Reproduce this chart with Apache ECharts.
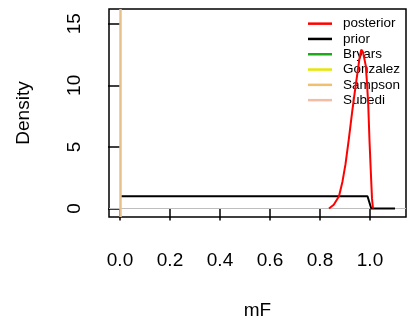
<!DOCTYPE html>
<html>
<head>
<meta charset="utf-8">
<script src="https://cdn.jsdelivr.net/npm/echarts@6/dist/echarts.min.js"></script>
<style>
  html, body { margin: 0; padding: 0; background: #fff; }
  #chart { width: 413px; height: 325px; }
</style>
</head>
<body>
<div id="chart"></div>
<script>
// x / y ticks
const xTicks = [0, 0.2, 0.4, 0.6, 0.8, 1.0]
const yTicks = [0, 5, 10, 15]

// posterior density
const postX = [0.836, 0.855, 0.876, 0.89, 0.902, 0.915, 0.929, 0.94, 0.949, 0.958, 0.965, 0.972, 0.983, 0.988, 0.993, 0.998, 1.003, 1.008, 1.012]
const postY = [0, 0.3, 1.0, 2.2, 3.6, 5.6, 7.9, 9.6, 10.9, 12.2, 12.9, 12.7, 11.6, 10.2, 8.4, 5.5, 3.1, 0.8, 0]

// prior
const priorX = [0, 0.99, 1.005, 1.1]
const priorY = [1, 1, 0, 0]

// studies in the legend
const studyNames = ['Bryars', 'Gonzalez', 'Sampson', 'Subedi']
const studyColors = ['#1aaa1a', '#e6e600', '#f0c070', '#f4bca4']
const studyVLine = 0 // abline at mF = 0

const xRange = [-0.044, 1.144]
const yRange = [-0.69, 16.2]

const font = 'Liberation Sans, Arial, Helvetica, sans-serif'
const myChart = echarts.init(document.getElementById('chart'))

const zip = (xs, ys) => xs.map((x, i) => [x, ys[i]])

const studySeries = studyNames.map((name, i) => ({
  name: name,
  type: 'line',
  data: [],
  color: studyColors[i],
  lineStyle: { color: studyColors[i], width: 2.5 },
  showSymbol: false
}))
// the vertical line at 0 (drawn once, on top)
studySeries[3].markLine = {
  silent: true,
  symbol: 'none',
  label: { show: false },
  lineStyle: { color: '#e8c08c', width: 2.5, type: 'solid' },
  data: [[{ coord: [studyVLine, yRange[0]] }, { coord: [studyVLine, yRange[1]] }]]
}

myChart.setOption({
  animation: false,
  textStyle: { fontFamily: font, color: '#000' },
  grid: {
    left: 109,
    top: 9,
    right: 7,
    bottom: 104,
    show: true,
    borderColor: '#000',
    borderWidth: 1.5
  },
  legend: {
    orient: 'vertical',
    left: 308,
    top: 16,
    padding: 0,
    itemGap: 0,
    itemWidth: 24,
    itemHeight: 2.5,
    icon: 'rect',
    data: ['posterior', 'prior'].concat(studyNames),
    textStyle: { fontSize: 13.5, lineHeight: 15.3, color: '#000', padding: [0, 0, 0, 6] }
  },
  xAxis: {
    type: 'value',
    min: xRange[0],
    max: xRange[1],
    name: 'mF',
    nameLocation: 'middle',
    nameGap: 84,
    nameTextStyle: { fontSize: 19, color: '#000' },
    axisLine: { show: false },
    splitLine: { show: false },
    axisTick: { show: true, length: 12, customValues: xTicks, lineStyle: { color: '#000', width: 1.5 } },
    axisLabel: {
      customValues: xTicks,
      fontSize: 19,
      color: '#000',
      margin: 34,
      formatter: v => v.toFixed(1)
    }
  },
  yAxis: {
    type: 'value',
    min: yRange[0],
    max: yRange[1],
    name: 'Density',
    nameLocation: 'middle',
    nameGap: 76,
    nameTextStyle: { fontSize: 19, color: '#000' },
    axisLine: { show: false },
    splitLine: { show: false },
    axisTick: { show: true, length: 12, customValues: yTicks, lineStyle: { color: '#000', width: 1.5 } },
    axisLabel: {
      customValues: yTicks,
      fontSize: 19,
      color: '#000',
      rotate: 90,
      margin: 25
    }
  },
  series: [
    {
      // abline(h = 0)
      name: 'zero',
      type: 'line',
      data: [[xRange[0], 0], [xRange[1], 0]],
      lineStyle: { color: '#bebebe', width: 1.2 },
      showSymbol: false,
      silent: true,
      z: 1
    },
    {
      name: 'posterior',
      type: 'line',
      data: zip(postX, postY),
      color: '#ff0000',
      lineStyle: { color: '#ff0000', width: 2 },
      showSymbol: false,
      z: 5
    },
    {
      name: 'prior',
      type: 'line',
      data: zip(priorX, priorY),
      color: '#000',
      lineStyle: { color: '#000', width: 2 },
      showSymbol: false,
      z: 4
    }
  ].concat(studySeries)
})
</script>
</body>
</html>
